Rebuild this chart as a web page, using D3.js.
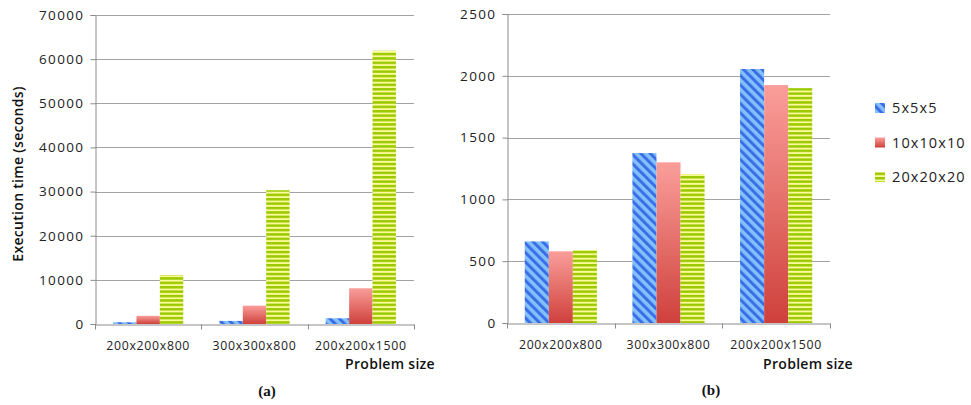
<!DOCTYPE html>
<html>
<head>
<meta charset="utf-8">
<script src="https://cdn.jsdelivr.net/npm/d3@7"></script>
<style>
  html, body { margin: 0; padding: 0; background: #fff; }
  svg { display: block; }
  .tick text { font-family: "Open Sans", sans-serif; fill: #222; }
</style>
</head>
<body>
<svg id="chart" width="971" height="405"></svg>
<script>
// Problem sizes along the x axis
const categories = ["200x200x800", "300x300x800", "200x200x1500"];
// Block sizes (legend series)
const seriesNames = ["5x5x5", "10x10x10", "20x20x20"];

// Panel (a): execution time in seconds
const panelA_5 = [400, 700, 1300];
const panelA_10 = [1850, 4150, 8100];
const panelA_20 = [11100, 30300, 61900];
const ticksA = [0, 10000, 20000, 30000, 40000, 50000, 60000, 70000];

// Panel (b): execution time in seconds
const panelB_5 = [660, 1375, 2055];
const panelB_10 = [580, 1300, 1925];
const panelB_20 = [590, 1205, 1900];
const ticksB = [0, 500, 1000, 1500, 2000, 2500];

const svg = d3.select("#chart");
const defs = svg.append("defs");

// Blue: diagonal hatching
const pBlue = defs.append("pattern")
  .attr("id", "fill-blue").attr("patternUnits", "userSpaceOnUse")
  .attr("width", 6.6).attr("height", 6.6)
  .attr("patternTransform", "rotate(-45)");
pBlue.append("rect").attr("width", 6.6).attr("height", 6.6).attr("fill", "#82c0fb");
pBlue.append("rect").attr("width", 3).attr("height", 6.6).attr("fill", "#3b6ee6");

// Red: vertical gradient per bar
const gRed = defs.append("linearGradient")
  .attr("id", "fill-red").attr("x1", 0).attr("y1", 0).attr("x2", 0).attr("y2", 1);
gRed.append("stop").attr("offset", "0%").attr("stop-color", "#fa9e9a");
gRed.append("stop").attr("offset", "100%").attr("stop-color", "#cf403b");

// Green: horizontal stripes
const pGreen = defs.append("pattern")
  .attr("id", "fill-green").attr("patternUnits", "userSpaceOnUse")
  .attr("width", 8).attr("height", 4.4);
pGreen.append("rect").attr("width", 8).attr("height", 4.4).attr("fill", "#fbfb9c");
pGreen.append("rect").attr("y", 0).attr("width", 8).attr("height", 2.5).attr("fill", "#9bc800");

const fills = ["url(#fill-blue)", "url(#fill-red)", "url(#fill-green)"];

function panel(opts) {
  const { x0, x1, yTop, yBottom, max, ticks, data, pad } = opts;
  const g = svg.append("g");

  const x = d3.scaleBand().domain(categories).range([x0, x1])
    .paddingInner(pad).paddingOuter(pad / 2);
  const xs = d3.scaleBand().domain(seriesNames).range([0, x.bandwidth()]);
  const y = d3.scaleLinear().domain([0, max]).range([yBottom, yTop]);

  // gridlines
  g.append("g").selectAll("line").data(ticks.filter(t => t > 0)).join("line")
    .attr("x1", x0).attr("x2", x1)
    .attr("y1", d => Math.round(y(d)) + 0.5).attr("y2", d => Math.round(y(d)) + 0.5)
    .attr("stroke", "#a3a3a3").attr("stroke-width", 1);

  // bars
  seriesNames.forEach((s, i) => {
    g.append("g").selectAll("rect").data(data[i]).join("rect")
      .attr("x", (d, j) => x(categories[j]) + xs(s))
      .attr("width", xs.bandwidth())
      .attr("y", d => y(d))
      .attr("height", d => y(0) - y(d))
      .attr("fill", fills[i]);
  });

  // y axis
  const yAxis = g.append("g")
    .attr("transform", `translate(${Math.round(x0) + 0.5},0)`)
    .call(d3.axisLeft(y).tickValues(ticks).tickSize(5).tickPadding(6).tickFormat(d3.format("d")));
  yAxis.select(".domain").attr("stroke", "#8c8c8c");
  yAxis.selectAll(".tick line").attr("stroke", "#8c8c8c");
  yAxis.selectAll(".tick text").attr("font-size", 13.5).attr("letter-spacing", 1.4);

  // x axis: labels centred on categories, ticks on category boundaries
  const xAxis = g.append("g")
    .attr("transform", `translate(0,${Math.round(yBottom) + 0.5})`)
    .call(d3.axisBottom(x).tickSize(0).tickPadding(17));
  xAxis.select(".domain").attr("stroke", "#8c8c8c");
  xAxis.selectAll(".tick text").attr("font-size", 12.3).attr("letter-spacing", 0.7);
  const bounds = categories.map(c => x(c) - x.step() * pad / 2).concat([x1]);
  xAxis.append("g").selectAll("line").data(bounds).join("line")
    .attr("x1", d => Math.round(d) + 0.5).attr("x2", d => Math.round(d) + 0.5)
    .attr("y1", 0).attr("y2", 5).attr("stroke", "#8c8c8c");

  return g;
}

panel({ x0: 95, x1: 414, yTop: 15, yBottom: 324, max: 70000, ticks: ticksA,
        data: [panelA_5, panelA_10, panelA_20], pad: 0.34 });
panel({ x0: 507, x1: 830, yTop: 14, yBottom: 323, max: 2500, ticks: ticksB,
        data: [panelB_5, panelB_10, panelB_20], pad: 0.33 });

// axis titles
svg.append("text")
  .attr("transform", "translate(23,174) rotate(-90)")
  .attr("text-anchor", "middle")
  .attr("font-family", "Open Sans, sans-serif").attr("font-size", 14)
  .attr("font-weight", 600).attr("letter-spacing", 0.3).attr("fill", "#111")
  .text("Execution time (seconds)");

[[435, "Problem size"], [853, "Problem size"]].forEach(([xr, t]) => {
  svg.append("text")
    .attr("x", xr).attr("y", 369).attr("text-anchor", "end")
    .attr("font-family", "Open Sans, sans-serif").attr("font-size", 14)
    .attr("font-weight", 600).attr("letter-spacing", 0.3).attr("fill", "#111")
    .text(t);
});

// panel captions
[[267, 396, "(a)"], [711, 395, "(b)"]].forEach(([cx, cy, t]) => {
  svg.append("text")
    .attr("x", cx).attr("y", cy).attr("text-anchor", "middle")
    .attr("font-family", "Liberation Serif, serif").attr("font-size", 15)
    .attr("font-weight", "bold").attr("fill", "#111")
    .text(t);
});

// legend
const legend = svg.append("g").attr("transform", "translate(875,108)");
seriesNames.forEach((s, i) => {
  const row = legend.append("g").attr("transform", `translate(0,${i * 34.5})`);
  row.append("rect").attr("x", 0).attr("y", -5).attr("width", 10).attr("height", 10)
    .attr("fill", fills[i]);
  row.append("text").attr("x", 17).attr("y", 0).attr("dy", "0.36em")
    .attr("font-family", "Open Sans, sans-serif").attr("font-size", 14.5)
    .attr("letter-spacing", 1.1).attr("fill", "#222")
    .text(s);
});
</script>
</body>
</html>
